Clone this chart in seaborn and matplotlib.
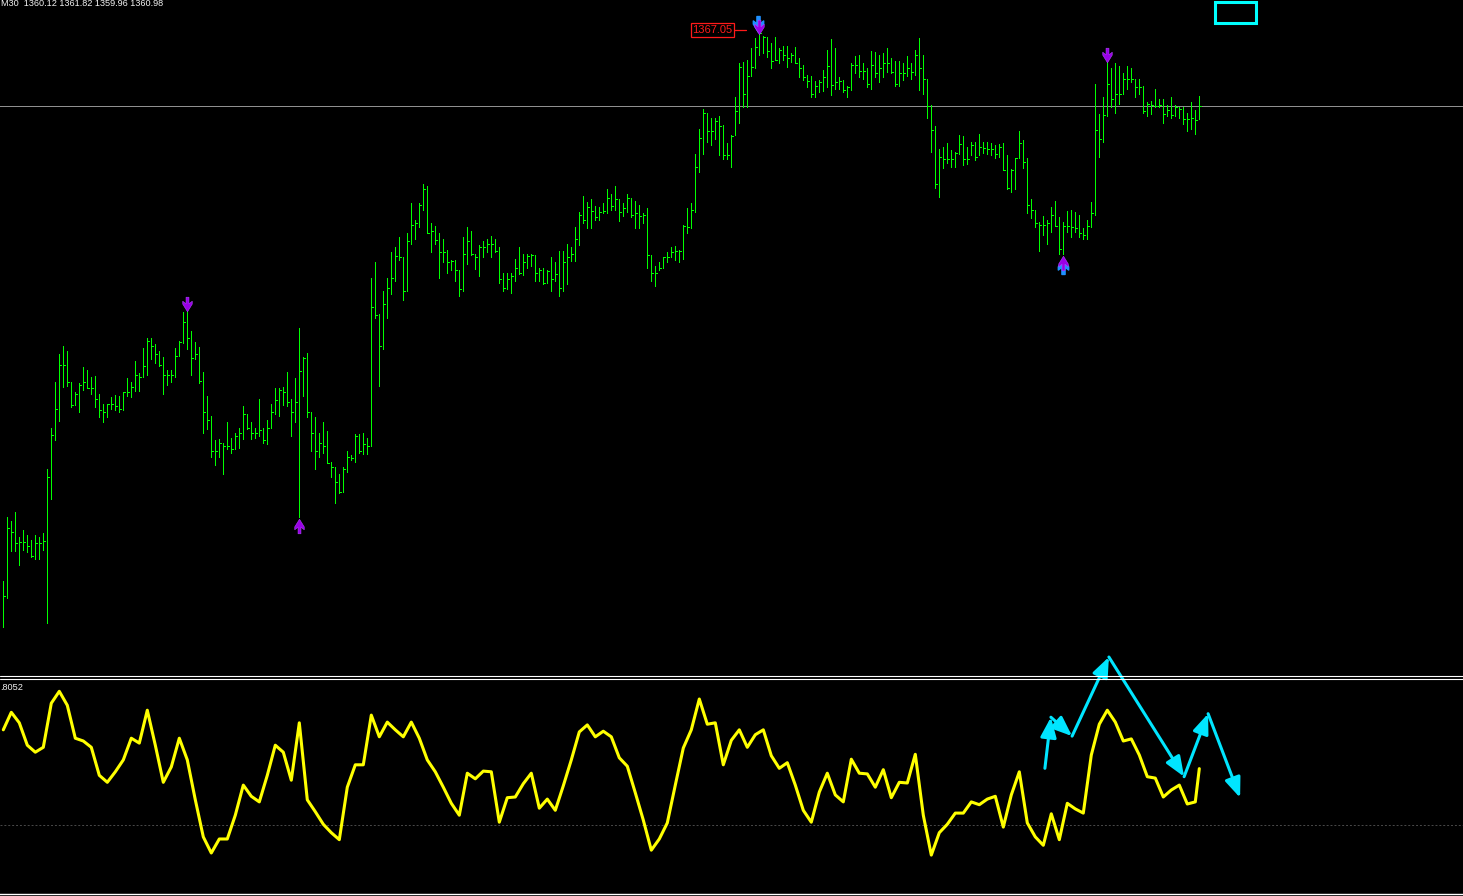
import numpy as np
import pandas as pd
import matplotlib
matplotlib.use("Agg")
import matplotlib.pyplot as plt
import seaborn as sns
import matplotlib.transforms as mtransforms
from matplotlib.path import Path
from matplotlib.lines import Line2D
from matplotlib.patches import Rectangle

# ---- M30 price bars (high / low / close) ----
high = [
    1323.3, 1328.4, 1328.1, 1328.8, 1326.8, 1327.4, 1327.0, 1326.6, 1327.0, 1326.8,
    1327.1, 1332.2, 1335.5, 1339.1, 1341.3, 1342.0, 1341.6, 1339.1, 1338.3, 1339.0,
    1340.3, 1340.1, 1339.5, 1339.6, 1338.2, 1337.4, 1337.4, 1337.9, 1338.1, 1338.0,
    1338.3, 1339.4, 1339.1, 1340.8, 1339.8, 1341.8, 1342.6, 1342.6, 1342.1, 1341.6,
    1341.1, 1340.1, 1340.1, 1341.8, 1342.4, 1344.7, 1345.1, 1343.2, 1342.3, 1341.9,
    1339.9, 1338.0, 1336.4, 1334.5, 1334.6, 1334.3, 1335.9, 1334.7, 1335.1, 1335.5,
    1337.2, 1336.6, 1335.9, 1335.5, 1337.8, 1335.5, 1336.1, 1337.4, 1338.6, 1338.6,
    1338.7, 1339.9, 1337.8, 1339.4, 1343.4, 1341.1, 1341.4, 1336.7, 1336.3, 1335.1,
    1335.9, 1335.2, 1332.8, 1332.4, 1331.8, 1332.4, 1333.6, 1333.3, 1335.0, 1335.0,
    1335.1, 1334.7, 1347.4, 1348.6, 1344.5, 1346.3, 1347.4, 1349.4, 1349.8, 1350.6,
    1349.0, 1350.9, 1353.3, 1352.0, 1353.3, 1354.8, 1354.7, 1351.7, 1351.5, 1350.9,
    1350.5, 1349.6, 1348.8, 1348.8, 1348.0, 1350.6, 1351.4, 1351.1, 1349.3, 1350.0,
    1350.3, 1350.5, 1350.7, 1350.5, 1349.8, 1347.8, 1347.8, 1347.8, 1348.9, 1349.8,
    1349.3, 1349.3, 1349.3, 1349.2, 1348.2, 1348.2, 1348.0, 1349.0, 1348.6, 1349.5,
    1349.5, 1350.1, 1349.8, 1351.4, 1352.6, 1353.9, 1353.4, 1353.6, 1353.1, 1353.0,
    1353.3, 1354.4, 1354.0, 1354.7, 1353.6, 1353.3, 1354.0, 1353.7, 1353.5, 1353.2,
    1352.5, 1352.9, 1349.2, 1348.3, 1348.6, 1349.0, 1349.4, 1349.8, 1349.9, 1349.6,
    1351.6, 1352.9, 1353.3, 1357.2, 1359.2, 1360.8, 1360.5, 1360.1, 1360.1, 1360.2,
    1359.5, 1358.1, 1358.7, 1361.7, 1364.4, 1364.5, 1364.7, 1365.6, 1366.4, 1367.05,
    1366.6, 1366.5, 1366.0, 1366.5, 1365.6, 1365.8, 1365.8, 1365.2, 1365.7, 1364.8,
    1364.3, 1363.5, 1363.4, 1363.0, 1363.1, 1363.9, 1365.5, 1366.3, 1365.6, 1363.3,
    1363.1, 1362.6, 1364.4, 1365.0, 1365.1, 1364.4, 1364.0, 1365.4, 1365.3, 1365.1,
    1365.2, 1365.6, 1364.8, 1364.6, 1364.6, 1364.4, 1365.0, 1364.4, 1365.5, 1366.4,
    1365.1, 1363.2, 1361.1, 1359.4, 1357.6, 1357.8, 1358.1, 1357.5, 1357.4, 1358.7,
    1358.6, 1357.8, 1358.2, 1358.2, 1358.8, 1358.2, 1358.2, 1358.1, 1357.9, 1358.0,
    1358.1, 1357.1, 1356.0, 1356.9, 1359.0, 1358.3, 1356.9, 1353.6, 1352.8, 1351.8,
    1352.3, 1352.0, 1353.0, 1353.5, 1352.2, 1351.8, 1352.7, 1352.8, 1352.6, 1352.4,
    1351.3, 1352.0, 1353.4, 1362.8, 1360.4, 1361.7, 1364.8, 1364.0, 1364.4, 1364.2,
    1363.6, 1364.2, 1364.0, 1363.2, 1363.2, 1362.6, 1361.3, 1361.4, 1362.4, 1361.6,
    1361.6, 1361.1, 1361.7, 1361.1, 1360.9, 1360.9, 1360.5, 1361.3, 1360.7, 1361.82,
]
low = [
    1319.7, 1322.0, 1325.7, 1325.7, 1324.6, 1325.8, 1325.6, 1325.2, 1325.1, 1325.1,
    1325.8, 1320.0, 1329.8, 1334.5, 1336.0, 1338.7, 1338.8, 1337.1, 1337.3, 1336.7,
    1338.5, 1338.6, 1338.2, 1337.1, 1336.3, 1335.9, 1336.3, 1337.0, 1336.9, 1336.7,
    1336.9, 1338.0, 1337.9, 1338.4, 1338.4, 1339.5, 1339.7, 1340.9, 1340.6, 1340.4,
    1338.2, 1338.9, 1339.1, 1339.5, 1341.2, 1342.2, 1341.7, 1339.7, 1340.9, 1339.0,
    1335.1, 1335.4, 1333.2, 1332.5, 1333.2, 1331.8, 1333.8, 1333.5, 1333.8, 1333.9,
    1334.6, 1335.4, 1334.6, 1334.7, 1334.8, 1334.3, 1334.2, 1335.5, 1336.6, 1336.4,
    1337.3, 1337.2, 1334.8, 1335.9, 1328.4, 1338.0, 1336.3, 1333.6, 1332.2, 1333.2,
    1333.5, 1332.7, 1331.6, 1329.5, 1330.3, 1330.4, 1332.0, 1332.9, 1332.8, 1333.5,
    1333.4, 1333.4, 1334.0, 1344.2, 1338.8, 1341.7, 1344.2, 1346.1, 1347.1, 1348.8,
    1345.6, 1346.3, 1350.1, 1350.5, 1351.4, 1352.8, 1350.9, 1349.4, 1350.1, 1347.4,
    1348.6, 1347.8, 1348.0, 1347.1, 1345.9, 1346.3, 1348.5, 1349.2, 1348.1, 1347.5,
    1349.0, 1349.4, 1349.0, 1349.4, 1347.0, 1346.3, 1346.5, 1346.2, 1347.1, 1347.7,
    1347.6, 1348.2, 1348.3, 1347.1, 1347.1, 1346.9, 1347.0, 1346.3, 1347.1, 1345.9,
    1346.3, 1346.9, 1348.7, 1348.7, 1350.0, 1351.7, 1351.3, 1351.3, 1352.0, 1352.0,
    1352.5, 1352.5, 1352.8, 1352.8, 1351.9, 1352.3, 1352.6, 1352.2, 1351.3, 1351.3,
    1351.7, 1348.2, 1347.1, 1346.7, 1348.0, 1348.2, 1348.6, 1349.0, 1348.8, 1348.6,
    1348.9, 1350.9, 1351.3, 1352.6, 1355.8, 1357.2, 1358.2, 1357.9, 1358.4, 1357.1,
    1356.8, 1356.8, 1356.2, 1358.7, 1359.7, 1360.9, 1360.9, 1363.4, 1364.0, 1365.1,
    1365.2, 1364.9, 1364.0, 1364.7, 1364.4, 1364.7, 1364.1, 1364.5, 1364.4, 1363.3,
    1363.1, 1362.5, 1361.7, 1361.7, 1362.1, 1362.2, 1362.5, 1361.9, 1362.4, 1362.4,
    1362.1, 1361.7, 1362.3, 1363.6, 1363.3, 1363.2, 1362.5, 1362.4, 1363.3, 1362.9,
    1363.3, 1363.7, 1363.6, 1362.6, 1362.6, 1363.1, 1363.4, 1363.2, 1363.5, 1362.3,
    1362.0, 1360.1, 1357.4, 1354.5, 1353.8, 1356.1, 1356.5, 1356.2, 1356.2, 1357.2,
    1356.3, 1356.4, 1357.1, 1356.7, 1357.1, 1357.3, 1357.2, 1357.1, 1356.9, 1357.0,
    1355.9, 1354.4, 1354.2, 1354.4, 1356.9, 1356.1, 1352.5, 1352.1, 1351.4, 1349.5,
    1350.8, 1350.1, 1351.0, 1351.5, 1349.3, 1349.3, 1351.0, 1350.6, 1351.0, 1350.6,
    1350.5, 1350.5, 1351.4, 1352.4, 1357.0, 1358.2, 1360.2, 1360.9, 1360.5, 1361.2,
    1362.0, 1362.4, 1362.9, 1361.7, 1362.0, 1360.5, 1360.2, 1360.4, 1360.9, 1360.9,
    1359.7, 1360.2, 1360.1, 1360.2, 1360.1, 1359.6, 1359.0, 1359.2, 1358.8, 1359.96,
]
close = [
    1322.1, 1327.5, 1327.2, 1326.3, 1326.4, 1326.4, 1326.1, 1325.3, 1326.3, 1326.3,
    1326.5, 1331.6, 1334.9, 1337.0, 1340.5, 1340.5, 1339.1, 1337.3, 1338.2, 1338.9,
    1339.1, 1338.6, 1338.6, 1337.8, 1336.9, 1336.7, 1337.4, 1337.4, 1337.2, 1337.0,
    1338.3, 1338.3, 1338.7, 1339.7, 1339.5, 1340.4, 1342.4, 1342.0, 1341.3, 1340.5,
    1339.7, 1339.7, 1339.7, 1341.2, 1342.3, 1343.9, 1342.6, 1341.0, 1341.3, 1339.2,
    1336.7, 1336.1, 1333.6, 1333.6, 1334.3, 1334.0, 1334.0, 1333.8, 1334.8, 1335.1,
    1336.6, 1335.5, 1335.1, 1335.1, 1335.3, 1334.5, 1335.5, 1336.7, 1337.7, 1338.5,
    1338.3, 1337.5, 1336.7, 1337.5, 1340.0, 1341.0, 1336.7, 1335.1, 1333.6, 1334.3,
    1334.0, 1332.7, 1332.4, 1331.2, 1330.4, 1332.2, 1333.2, 1333.1, 1334.8, 1333.6,
    1334.2, 1334.0, 1345.1, 1344.4, 1342.0, 1345.3, 1346.6, 1347.4, 1349.1, 1349.0,
    1346.3, 1350.3, 1351.6, 1351.7, 1353.2, 1354.4, 1350.9, 1351.1, 1350.4, 1349.4,
    1349.4, 1348.6, 1348.7, 1348.0, 1346.5, 1349.3, 1350.3, 1349.3, 1349.0, 1349.8,
    1349.8, 1350.1, 1350.1, 1349.5, 1347.3, 1346.6, 1347.3, 1347.5, 1348.2, 1347.8,
    1348.6, 1349.1, 1349.2, 1347.8, 1348.0, 1347.0, 1347.9, 1347.3, 1347.7, 1346.6,
    1348.6, 1349.0, 1349.3, 1350.5, 1352.4, 1352.0, 1353.0, 1352.7, 1352.2, 1352.6,
    1352.7, 1353.7, 1353.1, 1353.6, 1352.6, 1352.9, 1353.7, 1352.4, 1352.5, 1352.3,
    1352.4, 1349.2, 1347.8, 1347.8, 1348.2, 1349.0, 1349.0, 1349.4, 1349.5, 1349.5,
    1351.5, 1351.4, 1352.8, 1356.2, 1358.5, 1360.5, 1359.0, 1359.0, 1359.8, 1359.4,
    1357.1, 1357.1, 1358.6, 1360.6, 1364.1, 1362.0, 1363.4, 1364.1, 1365.7, 1366.8,
    1366.5, 1365.4, 1364.6, 1364.7, 1365.5, 1365.1, 1364.8, 1365.1, 1364.4, 1364.0,
    1363.3, 1363.0, 1362.0, 1362.6, 1362.9, 1363.3, 1364.2, 1362.7, 1362.9, 1363.0,
    1362.3, 1362.5, 1364.3, 1364.3, 1363.8, 1363.8, 1362.8, 1364.3, 1363.6, 1364.0,
    1364.4, 1364.4, 1363.7, 1362.8, 1363.6, 1363.6, 1364.0, 1363.7, 1365.1, 1364.0,
    1363.2, 1361.0, 1359.1, 1354.8, 1357.0, 1356.8, 1356.8, 1356.8, 1357.3, 1358.0,
    1356.8, 1356.8, 1357.9, 1357.0, 1357.8, 1357.7, 1357.6, 1357.6, 1357.2, 1357.8,
    1355.9, 1354.5, 1355.9, 1356.9, 1358.1, 1356.6, 1353.2, 1352.8, 1351.7, 1351.6,
    1351.6, 1351.7, 1352.4, 1351.5, 1349.7, 1351.5, 1351.5, 1351.4, 1351.3, 1350.9,
    1350.8, 1351.5, 1352.5, 1359.1, 1358.4, 1360.3, 1362.8, 1361.6, 1362.0, 1362.0,
    1363.2, 1363.2, 1363.2, 1362.5, 1362.5, 1360.6, 1361.2, 1361.1, 1361.0, 1361.1,
    1360.4, 1360.7, 1360.3, 1360.9, 1360.8, 1360.0, 1360.0, 1360.1, 1359.9, 1360.98,
]
header = "M30  1360.12 1361.82 1359.96 1360.98"
max_label = "1367.05"

# signal arrows on the price chart (bar numbers)
sell_bars = [46, 189, 276]
buy_bars = [74, 265]
blue_bars = [189, 265]

# ---- oscillator in the lower window (every 2nd bar + last bar) ----
osc_bar = list(range(0, 300, 2)) + [299]
osc_val = [
    1.36, 1.61, 1.46, 1.14, 1.04, 1.11, 1.74, 1.91, 1.71, 1.24,
    1.20, 1.11, 0.71, 0.61, 0.76, 0.93, 1.24, 1.17, 1.64, 1.14,
    0.61, 0.83, 1.24, 0.93, 0.36, -0.17, -0.40, -0.20, -0.20, 0.14,
    0.57, 0.41, 0.33, 0.71, 1.14, 1.04, 0.64, 1.46, 0.36, 0.19,
    0.01, -0.11, -0.21, 0.54, 0.86, 0.86, 1.57, 1.26, 1.47, 1.36,
    1.26, 1.47, 1.24, 0.93, 0.76, 0.54, 0.31, 0.14, 0.74, 0.66,
    0.77, 0.76, 0.04, 0.39, 0.40, 0.59, 0.74, 0.24, 0.37, 0.21,
    0.56, 0.93, 1.33, 1.43, 1.26, 1.34, 1.26, 0.96, 0.84, 0.46,
    0.07, -0.36, -0.20, 0.03, 0.57, 1.10, 1.36, 1.80, 1.44, 1.46,
    0.86, 1.21, 1.36, 1.11, 1.29, 1.36, 0.99, 0.81, 0.89, 0.57,
    0.21, 0.04, 0.47, 0.74, 0.43, 0.33, 0.94, 0.74, 0.73, 0.54,
    0.79, 0.39, 0.61, 0.60, 1.01, 0.14, -0.43, -0.11, 0.01, 0.17,
    0.17, 0.33, 0.29, 0.37, 0.41, -0.03, 0.43, 0.76, 0.03, -0.17,
    -0.29, 0.16, -0.21, 0.31, 0.23, 0.17, 1.00, 1.44, 1.64, 1.47,
    1.20, 1.23, 1.00, 0.69, 0.67, 0.40, 0.50, 0.57, 0.30, 0.33,
    0.8052,
]
osc_label = ".8052"

# hand drawn zig-zag arrows (bar, oscillator value)
zig_bar = [260.4, 261.9, 267.2, 276.4, 295.2, 301.2, 309.2]
zig_val = [0.81, 1.54, 1.27, 2.40, 0.69, 1.59, 0.39]

W, H = 1463, 896
GREEN = "#00ff00"
CYAN = "#00e5ff"

sns.set_style("dark", {"axes.facecolor": "black", "figure.facecolor": "black"})
plt.rcParams["font.family"] = ["Liberation Sans", "DejaVu Sans"]

fig = plt.figure(figsize=(W / 100, H / 100), dpi=100)
fig.patch.set_facecolor("black")
ax = fig.add_axes([0, 1 - 675 / H, 1, 675 / H])
ax2 = fig.add_axes([0, 2 / H, 1, 215 / H])

bars = np.arange(len(close))
hi = np.array(high)
lo = np.array(low)
cl = np.array(close)

# price bars (1 px, no smoothing like the terminal)
ax.vlines(bars, lo, hi, color=GREEN, lw=0.5, antialiased=False)
ax.hlines(cl, bars, bars + 0.5, color=GREEN, lw=0.5, antialiased=False)
ax.axhline(close[-1], color="#8f8f8f", lw=0.5, zorder=0, antialiased=False)

# arrow markers
dn = [(-0.2, 1.0), (0.2, 1.0), (0.2, 0.1), (0.65, 0.45), (0.65, 0.05),
      (0.0, -1.0), (-0.65, 0.05), (-0.65, 0.45), (-0.2, 0.1), (-0.2, 1.0)]
up = [(x, -y) for x, y in dn]
codes = [Path.MOVETO] + [Path.LINETO] * (len(dn) - 2) + [Path.CLOSEPOLY]
dn_path = Path(dn, codes)
up_path = Path(up, codes)


def shifted(dy_px, dx_px=0):
    return ax.transData + mtransforms.ScaledTranslation(dx_px / 100, dy_px / 100, fig.dpi_scale_trans)


for b in sell_bars:
    if b in blue_bars:
        ax.plot(b, hi[b], marker=dn_path, ms=11.5, color="#1e90ff", ls="none",
                transform=shifted(6, -1), zorder=4)
    ax.plot(b, hi[b], marker=dn_path, ms=10.5, color="#9a00e6", mec="#b040ff", mew=0.4,
            ls="none", transform=shifted(3), zorder=5)
for b in buy_bars:
    if b in blue_bars:
        ax.plot(b, lo[b], marker=up_path, ms=11.5, color="#1e90ff", ls="none",
                transform=shifted(-12), zorder=4)
    ax.plot(b, lo[b], marker=up_path, ms=10.5, color="#9a00e6", mec="#b040ff", mew=0.4,
            ls="none", transform=shifted(-9), zorder=5)

# max price label
ax.text(177.3, hi[189], max_label, color="#ff1a1a", fontsize=8, ha="center", va="center",
        bbox=dict(boxstyle="square,pad=0.15", fc="black", ec="#ff1a1a", lw=0.9))
ax.plot([182.7, 185.7], [hi[189], hi[189]], color="#ff1a1a", lw=0.9)

ax.set_xlim(-0.825, 364.925)
ax.set_ylim(1315.86, 1369.43)
ax.axis("off")

# oscillator window
df = pd.DataFrame({"bar": osc_bar, "val": osc_val})
sns.lineplot(data=df, x="bar", y="val", ax=ax2, color="#ffff00", lw=2.2,
             estimator=None, sort=False, legend=False)
ax2.axhline(0, color="#4a4a4a", lw=0.7, ls=(0, (2, 2)), zorder=0)
for i in range(len(zig_bar) - 1):
    ax2.annotate("", xy=(zig_bar[i + 1], zig_val[i + 1]), xytext=(zig_bar[i], zig_val[i]),
                 annotation_clip=False, zorder=6,
                 arrowprops=dict(arrowstyle="-|>,head_length=0.5,head_width=0.2",
                                 color=CYAN, lw=2.2, shrinkA=0, shrinkB=0,
                                 mutation_scale=24, clip_on=False))
ax2.set_xlim(-0.825, 364.925)
ax2.set_ylim(-0.986, 2.086)
ax2.grid(False)
ax2.set_xlabel("")
ax2.set_ylabel("")
for s in ["top", "left", "right"]:
    ax2.spines[s].set_visible(False)
ax2.spines["bottom"].set_color("white")
ax2.spines["bottom"].set_linewidth(1.0)
ax2.set_xticks(np.arange(3.925, 365, 16))
ax2.set_yticks([])
ax2.tick_params(axis="x", colors="white", length=2.5, width=0.8, direction="out",
                labelbottom=False)

# window separator (double line)
for yp in (675.5, 678.5):
    fig.add_artist(Line2D([0, 1], [1 - yp / H] * 2, color="white", lw=0.8,
                          transform=fig.transFigure))

# header texts
fig.text(1 / W, 1 - 6 / H, header, color="#f2f2f2", fontsize=6.6, va="baseline", ha="left")
fig.text(0, 1 - 690 / H, osc_label, color="#f2f2f2", fontsize=6.6, va="baseline", ha="left")

# cyan box top right
fig.add_artist(Rectangle((1215 / W, 1 - 23 / H), 41 / W, 21 / H, fill=False,
                         ec="#00ffff", lw=2.2, transform=fig.transFigure))

fig.savefig("out.png", dpi=100, facecolor="black")
